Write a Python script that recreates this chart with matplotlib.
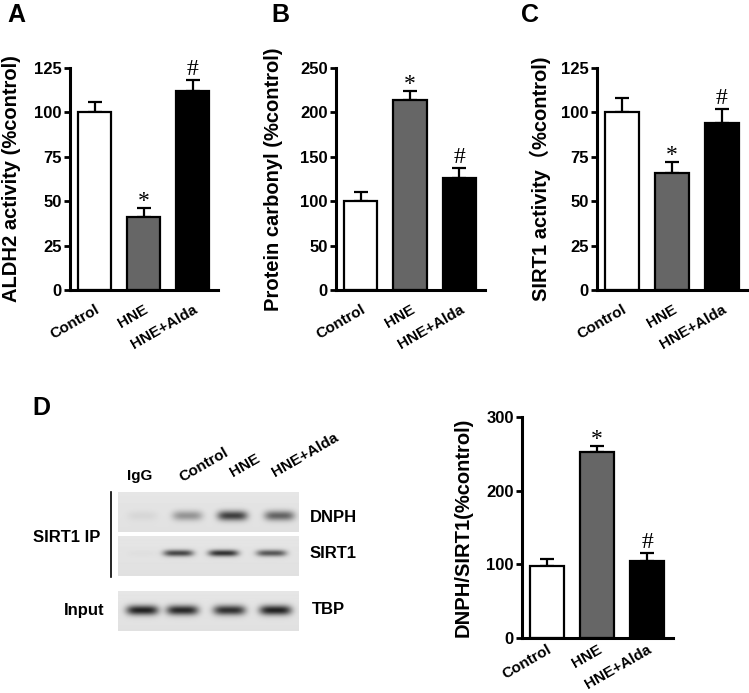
import numpy as np
import matplotlib.pyplot as plt
import matplotlib.transforms as mtransforms
from matplotlib.lines import Line2D

W, H = 749, 693

# data
groups = ["Control", "HNE", "HNE+Alda"]
aldh2 = [100, 41, 112]
aldh2_err = [6, 5, 6]
carbonyl = [100, 214, 126]
carbonyl_err = [10, 10, 11]
sirt1_act = [100, 66, 94]
sirt1_act_err = [8, 6, 8]
dnph_ratio = [98, 252, 104]
dnph_ratio_err = [9, 8, 11]
marks = ["", "*", "#"]

lanes = ["IgG", "Control", "HNE", "HNE+Alda"]
dnph_band = [0.06, 0.38, 0.80, 0.62]
sirt1_band = [0.02, 0.78, 0.88, 0.70]
tbp_band = [0.95, 0.92, 0.88, 0.95]

colors = ["white", "#666666", "black"]
mark_off = {"*": -2.5, "#": 0}

plt.rcParams['font.family'] = ['Liberation Sans', 'Noto Sans CJK SC']
plt.rcParams['font.weight'] = 'bold'

fig = plt.figure(figsize=(W / 100, H / 100), dpi=100)


def px_axes(x0, y0, x1, y1):
    return fig.add_axes([x0 / W, 1 - y1 / H, (x1 - x0) / W, (y1 - y0) / H])


def bar_panel(ax, vals, errs, ymax, step, ylabel, labx, xpad=9):
    x = np.arange(len(vals))
    ax.bar(x, vals, width=0.67, color=colors, edgecolor="black", linewidth=1.6, zorder=2)
    ax.errorbar(x, vals, yerr=[np.zeros(len(errs)), errs], fmt="none", ecolor="black",
                elinewidth=1.6, capsize=5, capthick=1.6, zorder=1)
    for xi, v, e, m in zip(x, vals, errs, marks):
        if m:
            ax.annotate(m, (xi, v + e), xytext=(0, mark_off[m]), textcoords="offset points",
                        ha="center", va="bottom", fontsize=17, fontweight="normal",
                        family="Liberation Serif")
    ax.set_xlim(-0.5, 2.52)
    ax.set_ylim(0, ymax)
    ax.set_yticks(np.arange(0, ymax + 1, step))
    ax.set_xticks(x)
    ax.set_xticklabels(groups, rotation=30, ha="right", va="top", rotation_mode="anchor",
                       fontsize=11, fontweight="bold")
    shift = mtransforms.ScaledTranslation(3 / 100, 0, fig.dpi_scale_trans)
    for lab in ax.get_xticklabels():
        lab.set_transform(lab.get_transform() + shift)
    ax.tick_params(axis="x", length=0, pad=xpad)
    ax.tick_params(axis="y", direction="out", length=4, width=2, labelsize=12, pad=2)
    for lab in ax.get_yticklabels():
        lab.set_fontweight("bold")
    for s in ["top", "right"]:
        ax.spines[s].set_visible(False)
    for s in ["left", "bottom"]:
        ax.spines[s].set_linewidth(2.2)
    ax.set_ylabel(ylabel, fontsize=14.5, fontweight="bold")
    ax.yaxis.set_label_coords(labx, 0.5)


axA = px_axes(70, 68, 218, 290)
bar_panel(axA, aldh2, aldh2_err, 125, 25, "ALDH2 activity (%control)", -0.33)
axB = px_axes(336, 68, 485, 290)
bar_panel(axB, carbonyl, carbonyl_err, 250, 50, "Protein carbonyl (%control)", -0.355)
axC = px_axes(597, 68, 748, 290)
bar_panel(axC, sirt1_act, sirt1_act_err, 125, 25, "SIRT1 activity\uff08%control)", -0.305)
axD = px_axes(522, 417, 673, 638)
bar_panel(axD, dnph_ratio, dnph_ratio_err, 300, 100, "DNPH/SIRT1(%control)", -0.33, xpad=3)

# panel letters
for lt, px, py in [("A", 7, 15), ("B", 271, 15), ("C", 521, 15), ("D", 32, 408)]:
    fig.text(px / W, 1 - py / H, lt, fontsize=18, fontweight="bold", ha="left", va="center")


# western blot strips
def strip(x0, y0, x1, y1, vals, centers, yc, ys, wx):
    ax = px_axes(x0, y0, x1, y1)
    nx, ny = int(x1 - x0), int(y1 - y0)
    xx, yy = np.meshgrid(np.arange(nx), np.arange(ny))
    img = np.full((ny, nx), 0.90)
    img -= 0.02 * (yy / ny)
    for v, c in zip(vals, centers):
        prof = np.exp(-((xx - (c - x0)) / wx) ** 4) * np.exp(-((yy - yc * ny) / ys) ** 2)
        img -= v * 0.8 * prof
    ax.imshow(np.clip(img, 0, 1), cmap="gray", vmin=0, vmax=1, aspect="auto",
              interpolation="bilinear")
    ax.axis("off")


strip(118, 492, 299, 532, dnph_band, [142, 187, 232, 279], 0.58, 5.0, 15)
strip(118, 536, 299, 576, sirt1_band, [142, 178, 223, 271], 0.43, 3.2, 15)
strip(118, 591, 299, 631, tbp_band, [142, 182, 229, 275], 0.48, 4.8, 16)

fig.add_artist(Line2D([111 / W, 111 / W], [1 - 492 / H, 1 - 577 / H], color="black", lw=1.2))

# lane labels
lane_pos = [(127, 480, 0), (182, 482, 30), (233, 477, 30), (275, 477, 30)]
for name, (lx, ly, rot) in zip(lanes, lane_pos):
    fig.text(lx / W, 1 - ly / H, name, fontsize=11, fontweight="bold", rotation=rot,
             rotation_mode="anchor", ha="left", va="baseline")

fig.text(100 / W, 1 - 537 / H, "SIRT1 IP", fontsize=12, fontweight="bold", ha="right", va="center")
fig.text(105 / W, 1 - 611 / H, "Input", fontsize=12, fontweight="bold", ha="right", va="center")
fig.text(310 / W, 1 - 517 / H, "DNPH", fontsize=12, fontweight="bold", ha="left", va="center")
fig.text(310 / W, 1 - 553 / H, "SIRT1", fontsize=12, fontweight="bold", ha="left", va="center")
fig.text(312 / W, 1 - 610 / H, "TBP", fontsize=12, fontweight="bold", ha="left", va="center")

fig.savefig("out.png", dpi=100)
